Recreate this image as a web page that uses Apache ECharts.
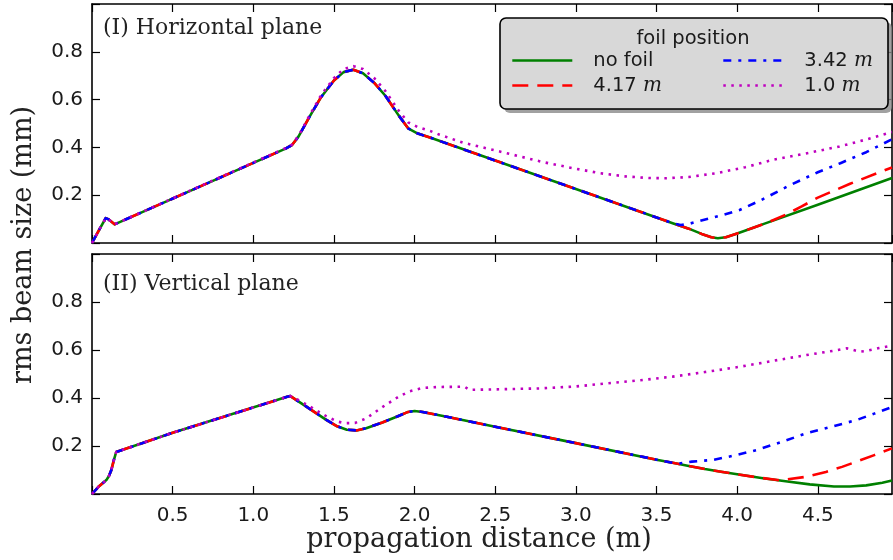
<!DOCTYPE html>
<html>
<head>
<meta charset="utf-8">
<script src="https://cdn.jsdelivr.net/npm/echarts@6/dist/echarts.min.js"></script>
<style>
  html, body { margin: 0; padding: 0; background: #fff; }
  #chart { width: 893px; height: 560px; }
</style>
</head>
<body>
<div id="chart"></div>
<script>
// rms beam size (mm) against propagation distance (m), [x, y] pairs

// ---- (I) Horizontal plane ----
// part shared by "no foil", "4.17 m" and "3.42 m"
const hShared = [
  [0, 0], [0.04, 0.05], [0.085, 0.104], [0.1, 0.1], [0.14, 0.078],
  [1.2, 0.395], [1.24, 0.41], [1.28, 0.445], [1.35, 0.53], [1.42, 0.61],
  [1.5, 0.68], [1.56, 0.715], [1.62, 0.725], [1.68, 0.71], [1.75, 0.67],
  [1.82, 0.615], [1.9, 0.535], [1.96, 0.48], [2.02, 0.458], [2.1, 0.44],
  [2.5, 0.345], [3.0, 0.226], [3.5, 0.107], [3.6, 0.083]
];
const hNoFoilTail = [
  [3.7, 0.06], [3.78, 0.038], [3.84, 0.024], [3.88, 0.02], [3.93, 0.024],
  [4.0, 0.04], [4.1, 0.064], [4.17, 0.081], [4.5, 0.16], [4.96, 0.272]
];
const hFoil417Tail = [
  [3.7, 0.06], [3.78, 0.038], [3.84, 0.024], [3.88, 0.02], [3.93, 0.024],
  [4.0, 0.04], [4.1, 0.064], [4.17, 0.081], [4.2, 0.089], [4.3, 0.118],
  [4.4, 0.153], [4.5, 0.19], [4.7, 0.248], [4.96, 0.316]
];
const hFoil342Tail = [
  [3.65, 0.075], [3.7, 0.08], [3.79, 0.096], [3.9, 0.115], [4.015, 0.138],
  [4.15, 0.18], [4.33, 0.243], [4.5, 0.296], [4.64, 0.334], [4.8, 0.38],
  [4.96, 0.434]
];
const hFoil10 = [
  [0, 0], [0.04, 0.05], [0.085, 0.104], [0.1, 0.1], [0.14, 0.078],
  [1.2, 0.397], [1.24, 0.412], [1.28, 0.448], [1.35, 0.535], [1.42, 0.618],
  [1.5, 0.69], [1.56, 0.728], [1.62, 0.74], [1.68, 0.728], [1.75, 0.69],
  [1.82, 0.635], [1.9, 0.555], [1.96, 0.505], [2.02, 0.485], [2.1, 0.468],
  [2.155, 0.453], [2.3, 0.42], [2.569, 0.376], [2.8, 0.338], [2.982, 0.313],
  [3.15, 0.292], [3.3, 0.279], [3.45, 0.272], [3.56, 0.271], [3.7, 0.276],
  [3.871, 0.292], [4.05, 0.317], [4.222, 0.348], [4.45, 0.378], [4.635, 0.404],
  [4.8, 0.433], [4.96, 0.464]
];

// ---- (II) Vertical plane ----
const vShared = [
  [0, 0], [0.04, 0.03], [0.089, 0.058], [0.105, 0.075], [0.12, 0.1],
  [0.135, 0.14], [0.15, 0.175], [0.5, 0.255], [1.21, 0.405], [1.23, 0.408],
  [1.27, 0.39], [1.35, 0.355], [1.45, 0.31], [1.52, 0.282], [1.58, 0.268],
  [1.64, 0.265], [1.7, 0.274], [1.8, 0.298], [1.9, 0.325], [1.96, 0.342],
  [2.0, 0.346], [2.05, 0.342], [2.2, 0.322], [2.5, 0.28], [3.0, 0.212],
  [3.5, 0.143], [3.6, 0.13]
];
const vNoFoilTail = [
  [3.7, 0.117], [3.8, 0.104], [3.9, 0.093], [4.0, 0.082], [4.15, 0.067],
  [4.3, 0.053], [4.45, 0.04], [4.6, 0.031], [4.7, 0.031], [4.8, 0.036],
  [4.9, 0.047], [4.96, 0.056]
];
const vFoil417Tail = [
  [3.7, 0.117], [3.8, 0.104], [3.9, 0.093], [4.0, 0.082], [4.15, 0.067],
  [4.25, 0.058], [4.3, 0.06], [4.43, 0.072], [4.55, 0.092], [4.65, 0.113],
  [4.74, 0.135], [4.85, 0.162], [4.96, 0.19]
];
const vFoil342Tail = [
  [3.65, 0.128], [3.72, 0.135], [3.85, 0.142], [3.98, 0.16], [4.12, 0.183],
  [4.28, 0.218], [4.43, 0.253], [4.6, 0.283], [4.74, 0.308], [4.85, 0.335],
  [4.96, 0.362]
];
const vFoil10 = [
  [0, 0], [0.04, 0.03], [0.089, 0.058], [0.105, 0.075], [0.12, 0.1],
  [0.135, 0.14], [0.15, 0.175], [0.5, 0.255], [1.21, 0.405], [1.23, 0.408],
  [1.27, 0.395], [1.35, 0.365], [1.45, 0.325], [1.52, 0.302], [1.57, 0.295],
  [1.63, 0.296], [1.7, 0.315], [1.8, 0.362], [1.9, 0.405], [1.97, 0.428],
  [2.05, 0.442], [2.15, 0.446], [2.31, 0.447], [2.34, 0.434], [2.5, 0.436],
  [2.78, 0.44], [3.0, 0.448], [3.19, 0.461], [3.4, 0.474], [3.6, 0.489],
  [3.8, 0.508], [4.015, 0.53], [4.2, 0.552], [4.43, 0.579], [4.6, 0.597],
  [4.68, 0.607], [4.72, 0.6], [4.76, 0.593], [4.8, 0.596], [4.88, 0.608],
  [4.96, 0.618]
];

const seriesNames = ['no foil', '4.17 m', '3.42 m', '1.0 m'];
const panelTitles = ['(I) Horizontal plane', '(II) Vertical plane'];
const xTitle = 'propagation distance (m)';
const yTitle = 'rms beam size (mm)';
const legendTitle = 'foil position';

const X_MIN = 0, X_MAX = 4.96, X_STEP = 0.5;
const Y_MIN = 0, Y_MAX = 1.0, Y_STEP = 0.2;

const lineStyles = [
  { color: '#008000', width: 2.6, type: 'solid' },
  { color: '#ff0000', width: 2.6, type: [16, 9] },
  { color: '#0000ff', width: 2.6, type: [8, 7, 3, 7] },
  { color: '#bf00bf', width: 2.6, type: [2.5, 5.5] }
];

const panels = [
  [hShared.concat(hNoFoilTail), hShared.concat(hFoil417Tail), hShared.concat(hFoil342Tail), hFoil10],
  [vShared.concat(vNoFoilTail), vShared.concat(vFoil417Tail), vShared.concat(vFoil342Tail), vFoil10]
];

const FONT_SANS = 'DejaVu Sans';
const FONT_SERIF = 'DejaVu Serif';
const frame = { show: true, onZero: false, lineStyle: { color: '#000', width: 1.6 } };
const tickIn = { show: true, inside: true, length: 8, lineStyle: { color: '#000', width: 1.2 } };

const grids = [
  { left: 92, top: 4, width: 800, height: 239 },
  { left: 92, top: 254, width: 800, height: 240 }
];

function fmtX(v) {
  if (v <= X_MIN || v >= X_MAX) return '';
  if (Math.abs(v / X_STEP - Math.round(v / X_STEP)) > 1e-6) return '';
  return v.toFixed(1);
}
function fmtY(v) {
  if (v <= Y_MIN || v >= Y_MAX) return '';
  return v.toFixed(1);
}

const xAxes = [], yAxes = [], series = [];
grids.forEach((g, gi) => {
  // bottom (data) and top (frame) x axes
  xAxes.push({
    type: 'value', gridIndex: gi, position: 'bottom', min: X_MIN, max: X_MAX, interval: X_STEP,
    axisLine: frame, axisTick: tickIn, splitLine: { show: false },
    axisLabel: {
      show: gi === 1, formatter: fmtX, showMaxLabel: false, margin: 12,
      fontFamily: FONT_SANS, fontSize: 20, color: '#1a1a1a'
    }
  });
  xAxes.push({
    type: 'value', gridIndex: gi, position: 'top', min: X_MIN, max: X_MAX, interval: X_STEP,
    axisLine: frame, axisTick: tickIn, splitLine: { show: false }, axisLabel: { show: false }
  });
  yAxes.push({
    type: 'value', gridIndex: gi, position: 'left', min: Y_MIN, max: Y_MAX, interval: Y_STEP,
    axisLine: frame, axisTick: tickIn, splitLine: { show: false },
    axisLabel: { formatter: fmtY, margin: 9, fontFamily: FONT_SANS, fontSize: 20, color: '#1a1a1a' }
  });
  yAxes.push({
    type: 'value', gridIndex: gi, position: 'right', min: Y_MIN, max: Y_MAX, interval: Y_STEP,
    axisLine: frame, axisTick: tickIn, splitLine: { show: false }, axisLabel: { show: false }
  });
  panels[gi].forEach((data, si) => {
    series.push({
      type: 'line', name: seriesNames[si],
      xAxisIndex: gi * 2, yAxisIndex: gi * 2,
      data: data, showSymbol: false, symbol: 'none', smooth: false,
      lineStyle: Object.assign({ cap: 'butt', join: 'round' }, lineStyles[si]),
      itemStyle: { color: lineStyles[si].color },
      z: 2 + si, silent: true, animation: false
    });
  });
});

const legendRich = {
  s: { width: 16 },
  i: { fontFamily: FONT_SERIF, fontStyle: 'italic', fontSize: 20, color: '#1a1a1a' }
};
function legendFmt(name) {
  return '{s|}' + name.replace(/ m$/, ' {i|m}');
}
function makeLegend(names, left) {
  return {
    data: names, orient: 'vertical', left: left, top: 48, padding: 0,
    itemWidth: 60, itemHeight: 25, itemGap: 0, selectedMode: false,
    itemStyle: { color: 'rgba(0,0,0,0)', borderWidth: 0, opacity: 0 },
    textStyle: { fontFamily: FONT_SANS, fontSize: 19.5, color: '#1a1a1a', lineHeight: 25, rich: legendRich },
    lineStyle: { width: 2.6 },
    formatter: legendFmt, z: 10
  };
}

const chart = echarts.init(document.getElementById('chart'), null, { renderer: 'canvas' });
chart.setOption({
  animation: false,
  backgroundColor: '#ffffff',
  grid: grids,
  xAxis: xAxes,
  yAxis: yAxes,
  series: series,
  legend: [
    makeLegend([seriesNames[0], seriesNames[1]], 511),
    makeLegend([seriesNames[2], seriesNames[3]], 722)
  ],
  graphic: [
    // legend frame with drop shadow
    { type: 'rect', z: 8, shape: { x: 504, y: 22, width: 388, height: 91, r: 6 }, style: { fill: '#8a8a8a', opacity: 0.8 } },
    { type: 'rect', z: 9, shape: { x: 500, y: 18, width: 388, height: 91, r: 6 }, style: { fill: '#d8d8d8', stroke: '#000', lineWidth: 1.6 } },
    { type: 'text', z: 10, x: 693, y: 39, style: { text: legendTitle, fontFamily: FONT_SANS, fontSize: 19.5, fill: '#1a1a1a', align: 'center', verticalAlign: 'middle' } },
    // panel titles
    { type: 'text', z: 10, x: 103, y: 28, style: { text: panelTitles[0], fontFamily: FONT_SERIF, fontSize: 22, fill: '#222', align: 'left', verticalAlign: 'middle' } },
    { type: 'text', z: 10, x: 103, y: 284, style: { text: panelTitles[1], fontFamily: FONT_SERIF, fontSize: 22, fill: '#222', align: 'left', verticalAlign: 'middle' } },
    // axis titles
    { type: 'text', z: 10, x: 479, y: 540, style: { text: xTitle, fontFamily: FONT_SERIF, fontSize: 27, fill: '#222', align: 'center', verticalAlign: 'middle' } },
    { type: 'text', z: 10, x: 24, y: 245, rotation: Math.PI / 2, style: { text: yTitle, fontFamily: FONT_SERIF, fontSize: 27, fill: '#222', align: 'center', verticalAlign: 'middle' } }
  ]
});
</script>
</body>
</html>
